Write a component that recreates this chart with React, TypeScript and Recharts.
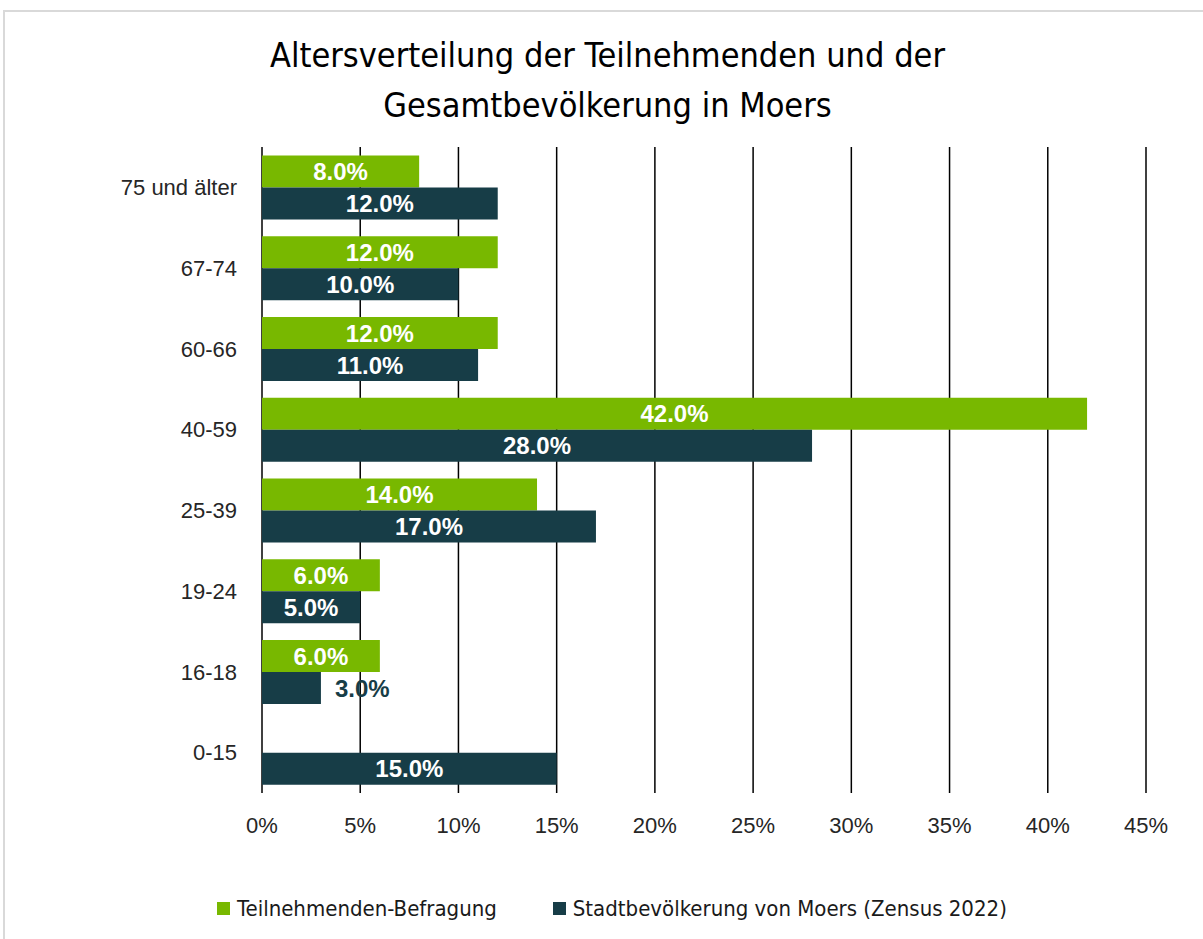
import { Bar, BarChart, CartesianGrid, LabelList, Legend, XAxis, YAxis } from "recharts";

const ageGroups = ["75 und älter", "67-74", "60-66", "40-59", "25-39", "19-24", "16-18", "0-15"];
const teilnehmende = [8, 12, 12, 42, 14, 6, 6, 0];
const stadtbevoelkerung = [12, 10, 11, 28, 17, 5, 3, 15];
const xTicks = [0, 5, 10, 15, 20, 25, 30, 35, 40, 45];

const seriesNames = ["Teilnehmenden-Befragung", "Stadtbevölkerung von Moers (Zensus 2022)"];
const colors = ["#78b800", "#173d47"];

const data = ageGroups.map((group, i) => ({
  group,
  teil: teilnehmende[i],
  stadt: stadtbevoelkerung[i],
}));

const narrow = "'Liberation Sans Narrow', 'DejaVu Sans Condensed', sans-serif";
const sans = "'Liberation Sans', Arial, sans-serif";

const makeLabel = (outsideColor: string) => (props: any) => {
  const { x, y, width, height, value } = props;
  if (!value) return null;
  const text = `${Number(value).toFixed(1)}%`;
  const fits = width > 65;
  return (
    <text
      x={fits ? x + width / 2 : x + width + 14}
      y={y + height / 2}
      dy="0.36em"
      textAnchor={fits ? "middle" : "start"}
      fill={fits ? "#ffffff" : outsideColor}
      fontFamily={sans}
      fontWeight="bold"
      fontSize={24}
    >
      {text}
    </text>
  );
};

const renderLegend = () => (
  <div
    style={{
      height: 30,
      display: "flex",
      justifyContent: "center",
      alignItems: "center",
      fontFamily: narrow,
      fontSize: 22,
      color: "#1a1a1a",
      paddingLeft: 78,
    }}
  >
    {seriesNames.map((name, i) => (
      <div key={name} style={{ display: "flex", alignItems: "center", marginRight: i === 0 ? 56 : 0 }}>
        <span style={{ width: 13, height: 13, background: colors[i], display: "inline-block", marginRight: 7 }} />
        <span>{name}</span>
      </div>
    ))}
  </div>
);

export default function App() {
  return (
    <div style={{ position: "absolute", left: 0, top: 0, width: 1203, height: 939, background: "#fff", overflow: "hidden" }}>
      <div
        style={{
          position: "absolute",
          left: 3,
          top: 10,
          width: 1240,
          height: 960,
          borderTop: "2px solid #d9d9d9",
          borderLeft: "2px solid #d9d9d9",
        }}
      />
      <div
        style={{
          position: "absolute",
          left: 3,
          top: 30,
          width: 1209,
          textAlign: "center",
          fontFamily: narrow,
          fontSize: 34,
          lineHeight: "50px",
          color: "#000",
        }}
      >
        Altersverteilung der Teilnehmenden und der
        <br />
        Gesamtbevölkerung in Moers
      </div>
      <div style={{ position: "absolute", left: 0, top: 0 }}>
        <BarChart
          width={1203}
          height={939}
          data={data}
          layout="vertical"
          margin={{ top: 147, right: 57, bottom: 16, left: 0 }}
          barCategoryGap="10.4%"
          barGap={0}
        >
          <CartesianGrid horizontal={false} vertical stroke="#000" strokeWidth={1.5} />
          <XAxis
            type="number"
            domain={[0, 45]}
            ticks={xTicks}
            tickFormatter={(v) => `${v}%`}
            axisLine={false}
            tickLine={false}
            tickMargin={18}
            height={100}
            tick={{ fill: "#262626", fontSize: 22, fontFamily: sans }}
          />
          <YAxis
            type="category"
            dataKey="group"
            width={262}
            axisLine={false}
            tickLine={false}
            tickMargin={19}
            tick={{ fill: "#262626", fontSize: 22, fontFamily: sans }}
          />
          <Legend verticalAlign="bottom" content={renderLegend} />
          <Bar dataKey="teil" name={seriesNames[0]} fill={colors[0]} isAnimationActive={false}>
            <LabelList dataKey="teil" content={makeLabel(colors[0])} />
          </Bar>
          <Bar dataKey="stadt" name={seriesNames[1]} fill={colors[1]} isAnimationActive={false}>
            <LabelList dataKey="stadt" content={makeLabel(colors[1])} />
          </Bar>
        </BarChart>
      </div>
    </div>
  );
}
